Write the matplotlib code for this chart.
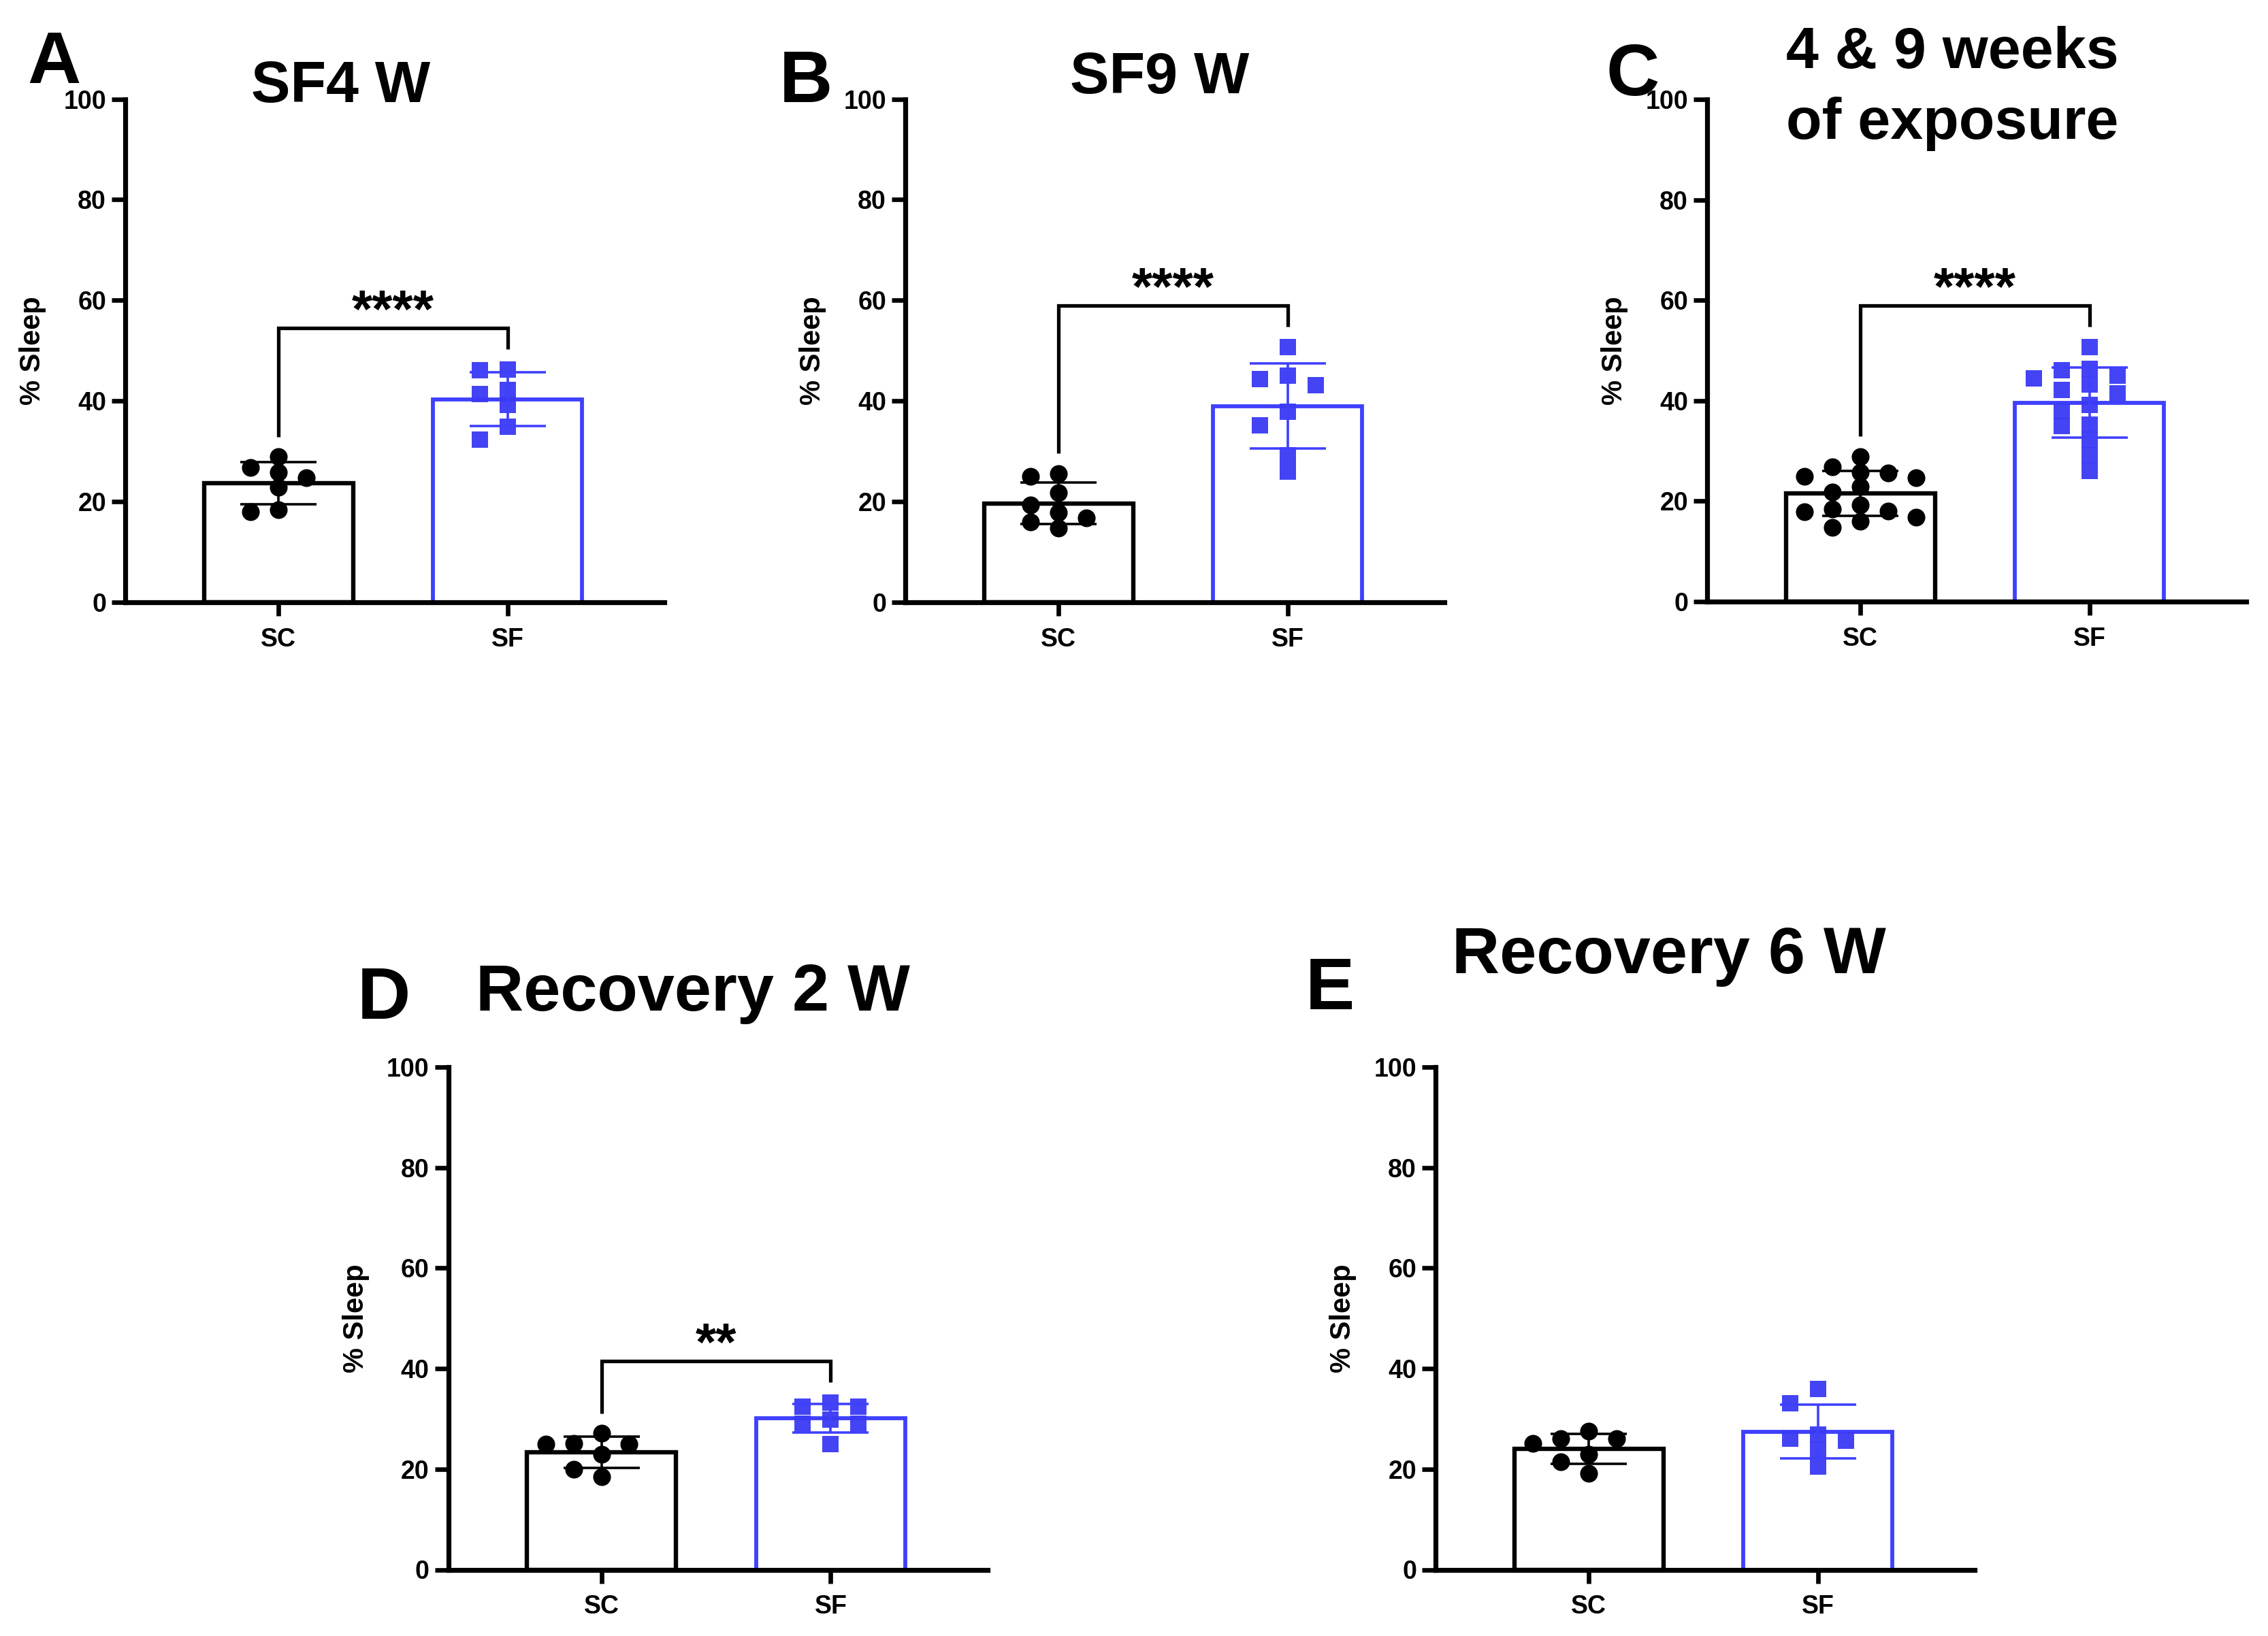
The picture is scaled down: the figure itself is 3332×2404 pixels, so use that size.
import numpy as np
import matplotlib
matplotlib.use("Agg")
import matplotlib.pyplot as plt

plt.rcParams['font.family'] = ['Liberation Sans', 'DejaVu Sans']
plt.rcParams['font.weight'] = 'bold'

# ---------------- data ----------------
groups = ['SC', 'SF']

sf4_sc = [28.9, 26.8, 25.8, 24.7, 22.9, 18.4, 18.0]
sf4_sf = [46.3, 46.1, 42.2, 41.4, 39.2, 34.9, 32.3]
sf9_sc = [25.6, 25.0, 21.8, 19.3, 17.9, 16.8, 16.0, 14.8]
sf9_sf = [50.7, 45.0, 44.4, 43.2, 37.9, 35.2, 29.2, 26.0]
comb_sc = sf4_sc + sf9_sc
comb_sf = sf4_sf + sf9_sf
rec2_sc = [27.1, 25.1, 25.0, 25.0, 22.9, 20.0, 18.5]
rec2_sf = [33.3, 32.4, 32.4, 29.8, 29.1, 29.0, 25.0]
rec6_sc = [27.5, 26.0, 26.0, 25.1, 23.0, 21.4, 19.2]
rec6_sf = [36.0, 33.1, 26.9, 26.0, 25.7, 23.8, 20.5]

panel_letters = ['A', 'B', 'C', 'D', 'E']
panel_titles = ['SF4 W', 'SF9 W', '4 & 9 weeks\nof exposure', 'Recovery 2 W', 'Recovery 6 W']
significance = ['****', '****', '****', '**', None]
yticks = [0, 20, 40, 60, 80, 100]
y_label = '% Sleep'

# ---------------- style / layout ----------------
W, H = 3332, 2404
DPI = 200
BLUE = '#4040ff'
SQ_BLUE = '#3a3af5'

fig = plt.figure(figsize=(W / DPI, H / DPI), dpi=DPI)
fig.patch.set_facecolor('white')

# axes boxes in pixels: left, top, right, bottom
boxes = [
    (184, 145.5, 976, 885),
    (1330, 145.5, 2122, 885),
    (2508, 146, 3300, 884),
    (658.5, 1568, 1450.5, 2306.5),
    (2109, 1568, 2901, 2306.5),
]
letter_pos = [(40, 122), (1145, 150), (2360, 140), (525, 1497), (1918, 1483)]
title_pos = [(501, 150), (1704, 137), (2868, 204), (1018, 1485), (2452, 1430)]
title_size = [31, 31, 31, 35, 35]

datasets = [(sf4_sc, sf4_sf), (sf9_sc, sf9_sf), (comb_sc, comb_sf),
            (rec2_sc, rec2_sf), (rec6_sc, rec6_sf)]


def fx(x):
    return x / W


def fy(y):
    return 1 - y / H


def swarm_offsets(values, step=0.0608, xmin=0.118, ythresh=2.9):
    values = np.asarray(values, float)
    order = np.argsort(-values, kind='stable')
    cands = [0.0]
    for k in range(1, 12):
        cands += [-k * step, k * step]
    placed = []
    offs = np.zeros(len(values))
    for i in order:
        y = values[i]
        chosen = cands[-1]
        for c in cands:
            if all(abs(c - px) >= xmin - 1e-9 for px, py in placed if abs(py - y) < ythresh):
                chosen = c
                break
        offs[i] = chosen
        placed.append((chosen, y))
    return offs


for k, (box, (sc, sf)) in enumerate(zip(boxes, datasets)):
    l, t, r, b = box
    ax = fig.add_axes([fx(l), fy(b), (r - l) / W, (b - t) / H])
    ax.set_facecolor('white')

    specs = [(sc, 'black', 'black', 'o', 9.4), (sf, BLUE, SQ_BLUE, 's', 8.4)]
    for i, (vals, col, pcol, mk, ms) in enumerate(specs):
        vals = np.asarray(vals, float)
        m = vals.mean()
        sd = vals.std(ddof=1)
        ax.bar(i, m, width=0.65, facecolor='white', edgecolor=col,
               linewidth=2.3 if i == 0 else 2.1, zorder=1)
        offs = swarm_offsets(vals)
        ax.plot(i + offs, vals, ls='none', marker=mk, ms=ms, color=pcol,
                markeredgewidth=0, alpha=0.95 if i == 1 else 1.0, zorder=2)
        ax.errorbar(i, m, yerr=sd, color=col, capsize=20, elinewidth=1.3,
                    capthick=1.3, zorder=3, ls='none')

    sig = significance[k]
    if sig:
        top = max(max(sc), max(sf)) + 8.2
        y0 = max(sc) + 4.0
        y1 = max(sf) + 4.0
        ax.plot([0, 0, 1, 1], [y0, top, top, y1], color='black', lw=1.9,
                solid_joinstyle='miter', solid_capstyle='butt', zorder=4)
        ax.text(0.5, top + 0.2, sig, ha='center', va='baseline', fontsize=28,
                fontweight='bold', color='black')

    ax.set_xlim(-0.668, 1.683)
    ax.set_ylim(0, 100)
    ax.spines['top'].set_visible(False)
    ax.spines['right'].set_visible(False)
    for s in ['left', 'bottom']:
        ax.spines[s].set_linewidth(2.6)
        ax.spines[s].set_capstyle('projecting')
    ax.set_yticks(yticks)
    ax.set_xticks([0, 1])
    ax.set_xticklabels(groups)
    ax.tick_params(axis='both', width=2.4, length=7.2, labelsize=13.5,
                   direction='out', color='black')
    ax.tick_params(axis='y', pad=2.9)
    ax.tick_params(axis='x', pad=6.0)
    for lab in ax.get_xticklabels() + ax.get_yticklabels():
        lab.set_fontweight('bold')
    ax.set_ylabel(y_label, fontsize=15, fontweight='bold')
    ax.yaxis.set_label_coords(-0.146, 0.5)

    # panel letter
    lx, ly = letter_pos[k]
    fig.text(fx(lx), fy(ly), panel_letters[k], fontsize=39, fontweight='bold',
             ha='left', va='baseline')
    # title
    tx, ty = title_pos[k]
    fig.text(fx(tx), fy(ty), panel_titles[k], fontsize=title_size[k],
             fontweight='bold', ha='center', va='baseline',
             multialignment='center', linespacing=1.38)

fig.savefig('out.png', dpi=DPI, facecolor='white')
